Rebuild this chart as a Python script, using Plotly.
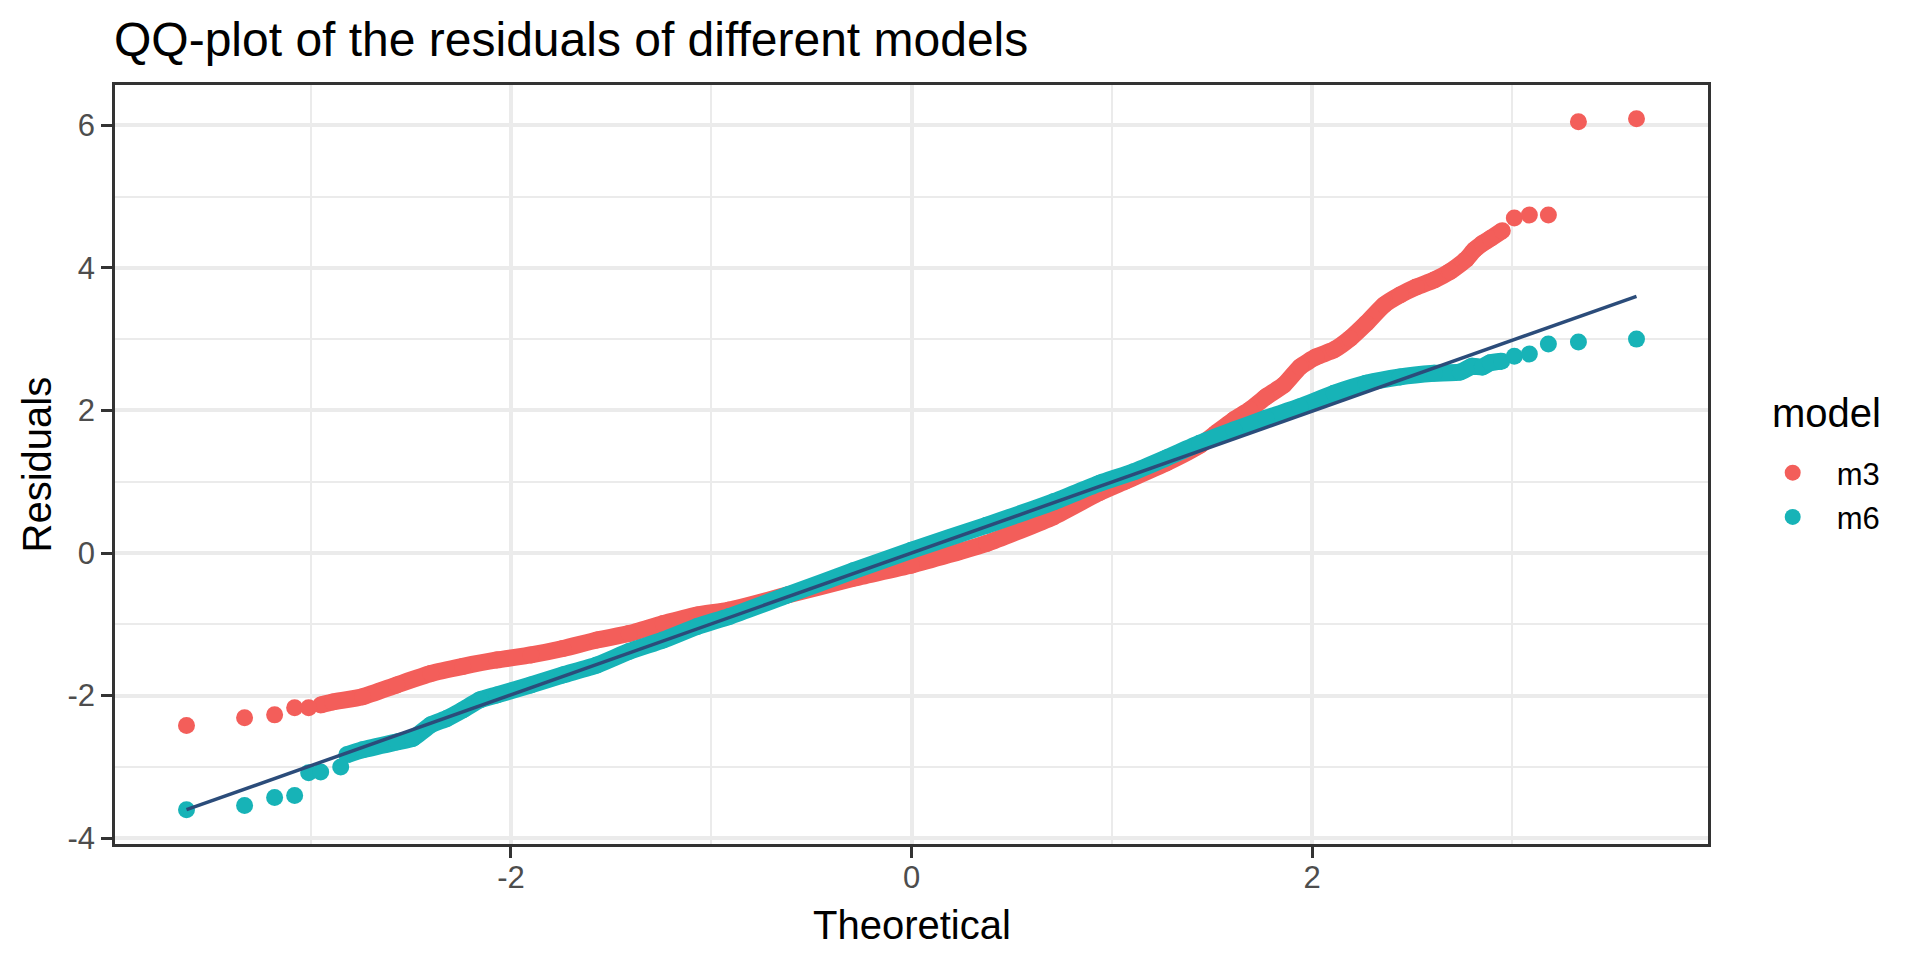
import plotly.graph_objects as go

# ---------------- data ----------------
models = ["m3", "m6"]
model_colors = ["#F35E5A", "#17B3B7"]

# isolated (tail) points
m3_point_theo = [-3.62, -3.33, -3.18, -3.08, -3.01, 3.01, 3.085, 3.18, 3.33, 3.62]
m3_point_resid = [-2.42, -2.31, -2.27, -2.17, -2.17, 4.70, 4.74, 4.74, 6.05, 6.09]
m6_point_theo = [-3.62, -3.33, -3.18, -3.08, -3.01, -2.95, -2.85, 3.01, 3.085, 3.18, 3.33, 3.62]
m6_point_resid = [-3.60, -3.54, -3.43, -3.40, -3.08, -3.07, -3.00, 2.76, 2.79, 2.93, 2.96, 3.00]

# dense central part (overlapping points forming a band)
m3_band_theo = [-2.95, -2.89, -2.74, -2.57, -2.40, -2.24, -2.07, -1.90, -1.74, -1.57,
                -1.41, -1.24, -1.07, -0.91, -0.62, -0.29, 0.00, 0.375, 0.71, 0.94,
                1.07, 1.27, 1.44, 1.52, 1.61, 1.69, 1.77, 1.86, 1.94, 2.02,
                2.11, 2.19, 2.27, 2.36, 2.44, 2.52, 2.61, 2.69, 2.77, 2.81,
                2.85, 2.89, 2.95]
m3_band_resid = [-2.13, -2.09, -2.015, -1.85, -1.69, -1.59, -1.50, -1.43, -1.34, -1.22,
                 -1.13, -0.99, -0.87, -0.80, -0.59, -0.355, -0.17, 0.135, 0.51, 0.85,
                 1.01, 1.26, 1.51, 1.68, 1.87, 2.01, 2.19, 2.36, 2.61, 2.75,
                 2.85, 3.01, 3.22, 3.48, 3.62, 3.73, 3.83, 3.95, 4.12, 4.25,
                 4.34, 4.41, 4.52]
m6_band_theo = [-2.82, -2.74, -2.57, -2.49, -2.40, -2.32, -2.24, -2.155, -2.07, -1.90,
                -1.74, -1.57, -1.41, -1.24, -1.07, -0.91, -0.62, -0.29, 0.00, 0.375,
                0.71, 0.94, 1.11, 1.27, 1.44, 1.61, 1.77, 1.94, 2.11, 2.27,
                2.44, 2.61, 2.74, 2.80, 2.85, 2.89, 2.947]
m6_band_resid = [-2.83, -2.76, -2.65, -2.60, -2.41, -2.32, -2.20, -2.06, -1.99, -1.85,
                 -1.71, -1.57, -1.38, -1.22, -1.03, -0.89, -0.59, -0.25, 0.04, 0.39,
                 0.72, 0.98, 1.14, 1.33, 1.54, 1.725, 1.89, 2.05, 2.24, 2.38,
                 2.47, 2.52, 2.54, 2.62, 2.61, 2.67, 2.69]

# reference line
ref_line_theo = [-3.62, 3.62]
ref_line_resid = [-3.60, 3.60]

x_tick_vals = [-2, 0, 2]
x_tick_text = ["-2", "0", "2"]
x_minor_vals = [-3, -1, 1, 3]
y_tick_vals = [-4, -2, 0, 2, 4, 6]
y_tick_text = ["-4", "-2", "0", "2", "4", "6"]
y_minor_vals = [-3, -1, 1, 3, 5]

# ---------------- figure ----------------
FONT = "Liberation Sans, Arial, Helvetica, sans-serif"
MS = 17
# page body has an 8px margin, so the figure is 8px smaller than the window
W, H = 1912, 952
ML, MR, MT, MB = 107, 212, 77, 116
PLOT_W = W - ML - MR
PLOT_H = H - MT - MB


def px_x(xpix):
    return (xpix - ML) / PLOT_W


def px_y(ypix):
    return (MT + PLOT_H - ypix) / PLOT_H


series = [
    (models[0], model_colors[0], m3_point_theo, m3_point_resid, m3_band_theo, m3_band_resid),
    (models[1], model_colors[1], m6_point_theo, m6_point_resid, m6_band_theo, m6_band_resid),
]

fig = go.Figure()
for name, col, px, py, bx, by in series:
    fig.add_trace(go.Scatter(
        x=bx, y=by, mode="lines+markers", name=name, legendgroup=name, showlegend=False,
        line=dict(color=col, width=MS, shape="spline", smoothing=0.5),
        marker=dict(color=col, size=MS, line=dict(width=0)),
        hoverinfo="skip",
    ))
    fig.add_trace(go.Scatter(
        x=px, y=py, mode="markers", name=name, legendgroup=name, showlegend=True,
        marker=dict(color=col, size=MS, line=dict(width=0)),
    ))

fig.add_trace(go.Scatter(
    x=ref_line_theo, y=ref_line_resid, mode="lines", showlegend=False,
    line=dict(color="#2B4C7A", width=3.5), hoverinfo="skip",
))

axis_common = dict(
    showline=True, linecolor="#333333", linewidth=2.5, mirror=True,
    ticks="outside", ticklen=11, tickwidth=2.5, tickcolor="#333333",
    tickfont=dict(family=FONT, size=31, color="#4D4D4D"),
    showgrid=True, gridcolor="#EBEBEB", gridwidth=3.5,
    zeroline=False, automargin=False,
)

fig.update_layout(
    width=W, height=H,
    margin=dict(l=ML, r=MR, t=MT, b=MB),
    paper_bgcolor="white", plot_bgcolor="white",
    font=dict(family=FONT, color="black"),
    title=dict(
        text="QQ-plot of the residuals of different models",
        font=dict(family=FONT, size=48, color="black"),
        x=106 / W, xanchor="left", xref="container",
        y=1 - 31 / H, yanchor="middle", yref="container",
    ),
    xaxis=dict(
        range=[-3.977, 3.977], tickvals=x_tick_vals, ticktext=x_tick_text,
        minor=dict(tickvals=x_minor_vals, showgrid=True, gridcolor="#EBEBEB", gridwidth=2, ticks=""),
        ticklabelstandoff=-7,
        **axis_common,
    ),
    yaxis=dict(
        range=[-4.081, 6.564], tickvals=y_tick_vals, ticktext=y_tick_text,
        minor=dict(tickvals=y_minor_vals, showgrid=True, gridcolor="#EBEBEB", gridwidth=2, ticks=""),
        **axis_common,
    ),
    legend=dict(
        font=dict(family=FONT, size=31, color="black"),
        x=px_x(1740.7), xanchor="left",
        y=px_y(438), yanchor="top",
        bgcolor="rgba(0,0,0,0)", itemwidth=78, tracegroupgap=1,
    ),
    annotations=[
        dict(text="model", showarrow=False, xref="paper", yref="paper",
             x=px_x(1762), xanchor="left", y=px_y(405), yanchor="middle",
             font=dict(family=FONT, size=40, color="black")),
        dict(text="Theoretical", showarrow=False, xref="paper", yref="paper",
             x=0.5, xanchor="center", y=px_y(917), yanchor="middle",
             font=dict(family=FONT, size=40, color="black")),
        dict(text="Residuals", showarrow=False, xref="paper", yref="paper", textangle=-90,
             x=px_x(28), xanchor="center", y=0.5, yanchor="middle",
             font=dict(family=FONT, size=40, color="black")),
    ],
)

fig.write_html("out.html", config={"displayModeBar": False})
